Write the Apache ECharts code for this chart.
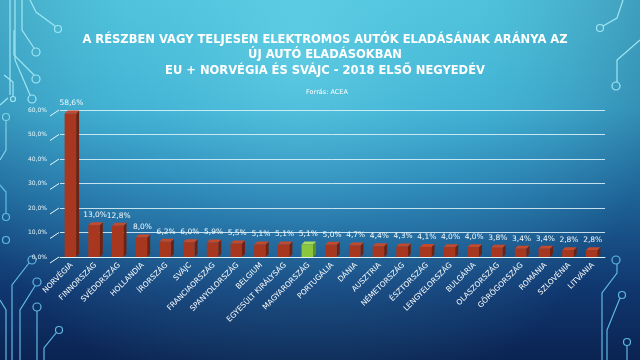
<!DOCTYPE html>
<html><head><meta charset="utf-8">
<script src="https://cdn.jsdelivr.net/npm/echarts@6/dist/echarts.min.js"></script>
<style>html,body{margin:0;padding:0;background:#0b2654}#c{width:640px;height:360px}</style>
</head><body><div id="c"></div>
<script>
const categories = ['NORVÉGIA','FINNORSZÁG','SVÉDORSZÁG','HOLLANDIA','ÍRORSZÁG','SVÁJC','FRANCIAORSZÁG','SPANYOLORSZÁG','BELGIUM','EGYESÜLT KIRÁLYSÁG','MAGYARORSZÁG','PORTUGÁLIA','DÁNIA','AUSZTRIA','NÉMETORSZÁG','ÉSZTORSZÁG','LENGYELORSZÁG','BULGÁRIA','OLASZORSZÁG','GÖRÖGORSZÁG','ROMÁNIA','SZLOVÉNIA','LITVÁNIA'];
const shares = [58.6,13.0,12.8,8.0,6.2,6.0,5.9,5.5,5.1,5.1,5.1,5.0,4.7,4.4,4.3,4.1,4.0,4.0,3.8,3.4,3.4,2.8,2.8];
const highlighted = ['MAGYARORSZÁG'];
const yTicks = [0,10,20,30,40,50,60];
const titleText = 'A RÉSZBEN VAGY TELJESEN ELEKTROMOS AUTÓK ELADÁSÁNAK ARÁNYA AZ\nÚJ AUTÓ ELADÁSOKBAN\nEU + NORVÉGIA ÉS SVÁJC - 2018 ELSŐ NEGYEDÉV';
const sourceText = 'Forrás: ACEA';

const fmt = v => v.toFixed(1).replace('.', ',') + '%';
const chart = echarts.init(document.getElementById('c'), null, {renderer:'canvas'});

const light = '#9fe6f2', mid = '#5fb8e6';
const deco = [];
function pl(points, color){ deco.push({type:'polyline', shape:{points}, style:{stroke:color, lineWidth:1.2, fill:null}, silent:true}); }
function ci(cx, cy, r, color){ deco.push({type:'circle', shape:{cx, cy, r}, style:{stroke:color, lineWidth:1.2, fill:null}, silent:true}); }
// left top
pl([[10,0],[10,95]], light); pl([[15,0],[15,60],[30,95]], light);
pl([[30,0],[36,12],[55,26]], light); ci(58,29,3.5,light);
pl([[22,0],[22,30],[34,48]], light); ci(36,52,4,light);
pl([[14,30],[14,55],[34,75]], light); ci(36,79,4,light);
ci(32,99,4,light);
pl([[4,75],[13,82],[13,96]], light); ci(13,99,2.5,light);
pl([[0,105],[8,98]], light);
// left middle
ci(6,117,3.5,'#7fd0e8'); pl([[6,121],[6,150],[0,160]], '#7fd0e8');
pl([[0,185],[6,192],[6,213]], '#5fbde0'); ci(6,217,3.5,'#5fbde0'); ci(6,240,3.5,'#5fbde0');
// left bottom
ci(32,260,4,mid); pl([[29,263],[12,285],[12,360]], mid);
ci(37,282,4,mid); pl([[35,286],[20,310],[20,360]], mid);
ci(37,307,4,mid); pl([[37,311],[37,360]], mid);
ci(59,330,3.5,mid); pl([[56,333],[44,348],[44,360]], mid);
pl([[0,300],[6,310],[6,360]], mid);
// right top
pl([[623,0],[617,18],[603,26]], light); ci(600,28,3.5,light);
pl([[640,40],[617,60],[617,82]], light); ci(616,86,4,light);
// right bottom
ci(616,260,4,mid); pl([[617,264],[617,273],[602,293],[602,360]], mid);
ci(622,295,3.5,mid); pl([[620,298],[607,330],[607,360]], mid);
ci(627,342,3.5,mid); pl([[627,346],[627,360]], mid);

const option = {
  backgroundColor: {type:'linear', x:0, y:0, x2:0, y2:1, colorStops:[
    {offset:0, color:'#4fc3db'},{offset:0.3, color:'#3fb0d2'},{offset:0.55, color:'#2479ad'},{offset:0.8, color:'#123f7a'},{offset:1, color:'#0b2552'}]},
  graphic: [
    {type:'rect', z:-1, silent:true, shape:{x:0,y:0,width:640,height:360}, style:{fill:{type:'radial', x:300, y:60, r:360, global:true, colorStops:[
      {offset:0, color:'rgba(120,225,240,0.45)'},{offset:0.5, color:'rgba(90,200,230,0.15)'},{offset:1, color:'rgba(10,30,80,0.25)'}]}}}
  ].concat(deco),
  title: [
    {text:titleText, left:320, top:27, textAlign:'center', textStyle:{color:'#ffffff', fontFamily:'DejaVu Sans', fontWeight:'bold', fontSize:11.5, lineHeight:15.5}},
    {text:sourceText, left:322, top:84, textAlign:'center', textStyle:{color:'#ffffff', fontFamily:'DejaVu Sans', fontWeight:'normal', fontSize:6.5}}
  ],
  grid: {left:60, right:35, top:110, bottom:103, containLabel:false},
  xAxis: {type:'category', data:categories, boundaryGap:true,
    axisLine:{show:true, lineStyle:{color:'rgba(225,245,250,0.9)', width:1}},
    axisTick:{show:false},
    axisLabel:{rotate:45, interval:0, margin:7, color:'#ffffff', fontFamily:'DejaVu Sans', fontSize:7.5}},
  yAxis: {type:'value', min:yTicks[0], max:yTicks[yTicks.length-1], interval:10,
    axisLine:{show:false}, axisTick:{show:false},
    splitLine:{lineStyle:{color:'rgba(225,245,250,0.85)', width:1}},
    axisLabel:{formatter:fmt, color:'#e6f7fb', fontFamily:'DejaVu Sans', fontSize:6, margin:13, padding:[6,0,0,0]}},
  series: [{
    type:'custom',
    clip:false,
    data: shares.map((v,i)=>[i, v]),
    renderItem: function(params, api){
      const i = api.value(0), v = api.value(1);
      const base = api.coord([i, 0]), top = api.coord([i, v]);
      const band = api.size([1, 0])[0];
      const w = 11.5, d = 3;
      const cx = base[0] - 1.5;
      const x0 = cx - w/2, x1 = cx + w/2, yt = top[1], yb = base[1];
      const hl = highlighted.indexOf(categories[i]) >= 0;
      const cf = hl ? '#8cc63f' : '#a8371f';
      const cs = hl ? '#5f8f25' : '#6e2212';
      const ct = hl ? '#a9d95e' : '#c44a2e';
      const children = [];
      if (i === 0) {
        const gx = base[0] - band / 2;
        yTicks.forEach(t => {
          const p = api.coord([0, t]);
          children.push({type:'line', shape:{x1:gx-10, y1:p[1]+6, x2:gx-1, y2:p[1]}, style:{stroke:'#e8f8fc', lineWidth:1}});
        });
      }
      children.push(
        {type:'polygon', shape:{points:[[x1,yt],[x1+d,yt-d],[x1+d,yb-d],[x1,yb]]}, style:{fill:cs}},
        {type:'polygon', shape:{points:[[x0,yt],[x0+d,yt-d],[x1+d,yt-d],[x1,yt]]}, style:{fill:ct}},
        {type:'rect', shape:{x:x0, y:yt, width:w, height:yb-yt}, style:{fill:cf}},
        {type:'text', x:cx+1, y:yt-d-3, style:{text:fmt(v), fill:'#eef9fc', font:'7.5px "DejaVu Sans"', textAlign:'center', textVerticalAlign:'bottom'}}
      );
      return {type:'group', children};
    }
  }]
};
chart.setOption(option);
</script></body></html>
